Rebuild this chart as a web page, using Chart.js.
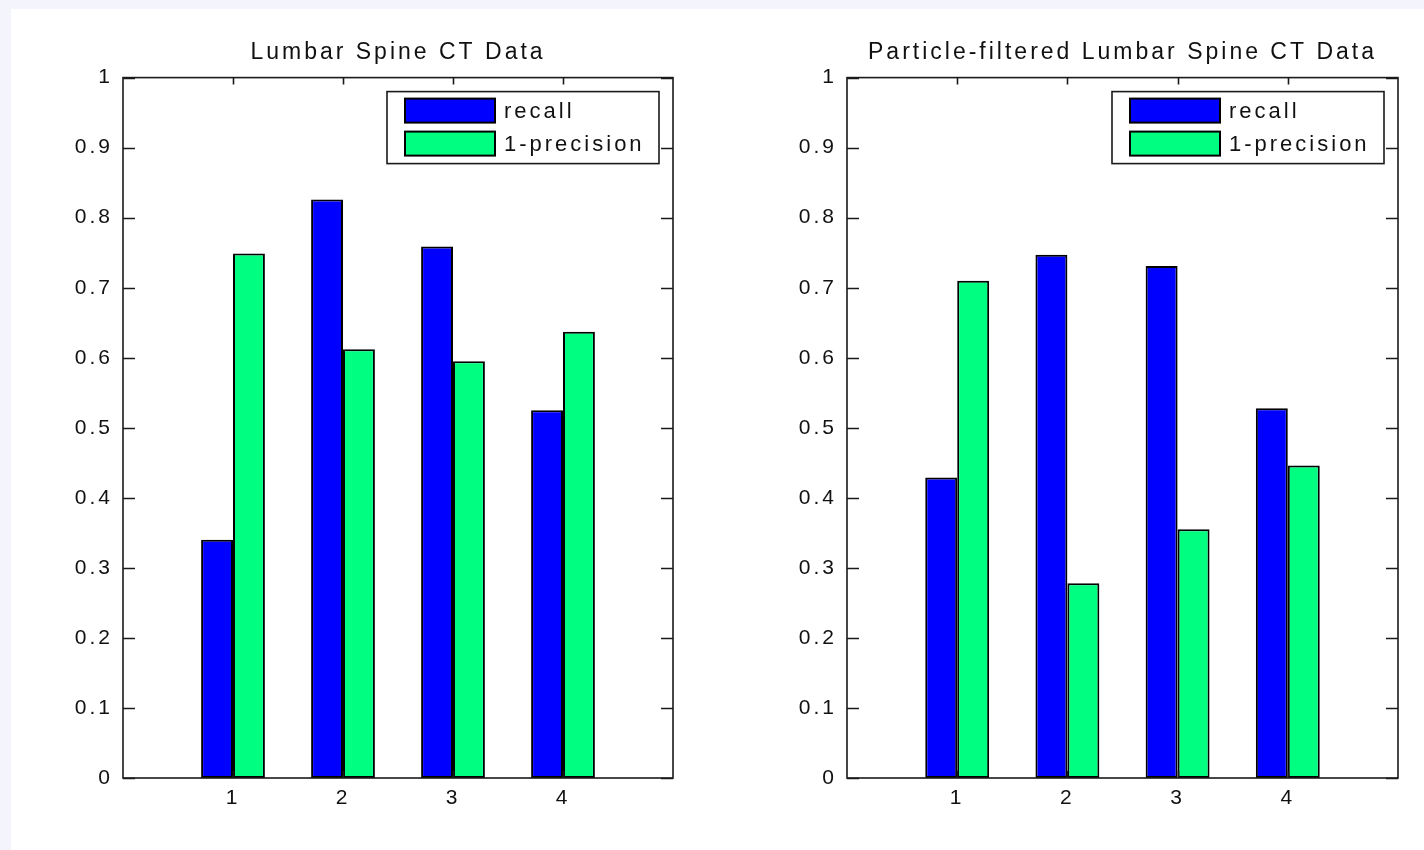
<!DOCTYPE html>
<html>
<head>
<meta charset="utf-8">
<script src="https://cdn.jsdelivr.net/npm/chart.js@4.4.1/dist/chart.umd.min.js"></script>
<style>
  html, body { margin: 0; padding: 0; background: #f3f4fc; width: 1424px; height: 850px; overflow: hidden; }
  #figura { position: absolute; left: 11px; top: 9px; width: 1413px; height: 841px; background: #fff; }
  .kutu { position: absolute; top: 0; height: 841px; }
  #solKutu { left: 0; width: 706px; }
  #sagKutu { left: 706px; width: 707px; }
</style>
</head>
<body>
<div id="figura">
  <div class="kutu" id="solKutu"><canvas id="solGrafik"></canvas></div>
  <div class="kutu" id="sagKutu"><canvas id="sagGrafik"></canvas></div>
</div>
<script>
// ============================================
// VERİ
// ============================================
const kategoriler = [1, 2, 3, 4];
const yTikleri = [0, 0.1, 0.2, 0.3, 0.4, 0.5, 0.6, 0.7, 0.8, 0.9, 1];

const solBaslik = "Lumbar Spine CT Data";
const solRecall = [0.340, 0.826, 0.759, 0.525];
const solPrecision = [0.749, 0.612, 0.595, 0.637];

const sagBaslik = "Particle-filtered Lumbar Spine CT Data";
const sagRecall = [0.429, 0.747, 0.731, 0.528];
const sagPrecision = [0.710, 0.278, 0.355, 0.446];

const seriAdlari = ["recall", "1-precision"];
const seriRenkleri = ["#0000ff", "#00ff80"];

const YAZI = "'Liberation Sans', Arial, sans-serif";
const ARALIK = "3px";   // matlab yazısı geniş duruyor
const CIZGI = "#1a1a1a";
const YAZI_RENK = "#111";

// ============================================
// EKLENTİLER
// ============================================
// harf aralığı (ctx durumu her çizimde sıfırlanabiliyor)
const harfAraligi = {
  id: "harfAraligi",
  beforeUpdate(chart) { chart.ctx.letterSpacing = ARALIK; },
  beforeDraw(chart) { chart.ctx.letterSpacing = ARALIK; },
};

// matlab tarzı kutu + içe dönük çentikler + lejant
const matlabKutu = {
  id: "matlabKutu",
  afterDraw(chart) {
    const { ctx, chartArea: a, scales } = chart;
    ctx.save();
    ctx.strokeStyle = CIZGI;
    ctx.lineWidth = 1.6;
    ctx.strokeRect(a.left, a.top, a.right - a.left, a.bottom - a.top);

    ctx.beginPath();
    yTikleri.forEach(v => {
      const y = Math.round(scales.y.getPixelForValue(v)) + 0.5;
      ctx.moveTo(a.left, y);  ctx.lineTo(a.left + 12, y);
      ctx.moveTo(a.right, y); ctx.lineTo(a.right - 12, y);
    });
    kategoriler.forEach(k => {
      const x = Math.round(scales.x.getPixelForValue(k)) + 0.5;
      ctx.moveTo(x, a.top);    ctx.lineTo(x, a.top + 7);
      ctx.moveTo(x, a.bottom); ctx.lineTo(x, a.bottom - 7);
    });
    ctx.stroke();

    // lejant kutusu
    const gen = 272, yuk = 72;
    const lx = a.right - 14 - gen, ly = a.top + 14;
    ctx.fillStyle = "#fff";
    ctx.fillRect(lx, ly, gen, yuk);
    ctx.lineWidth = 1.6;
    ctx.strokeRect(lx, ly, gen, yuk);

    ctx.letterSpacing = ARALIK;
    ctx.font = "22px " + YAZI;
    ctx.textBaseline = "middle";
    ctx.textAlign = "left";
    seriAdlari.forEach((ad, i) => {
      const sy = ly + 7 + i * 33;
      ctx.fillStyle = seriRenkleri[i];
      ctx.fillRect(lx + 18, sy, 90, 24);
      ctx.lineWidth = 2;
      ctx.strokeStyle = "#000";
      ctx.strokeRect(lx + 18, sy, 90, 24);
      ctx.fillStyle = YAZI_RENK;
      ctx.fillText(ad, lx + 117, sy + 13);
    });
    ctx.restore();
  }
};

// ============================================
// GRAFİK KURULUMU
// ============================================
function grafikKur(canvasId, baslik, recall, precision, eksenGenisligi, sagBosluk) {
  const seriler = [recall, precision].map((veri, i) => ({
    label: seriAdlari[i],
    data: kategoriler.map((k, j) => ({ x: k, y: veri[j] })),
    backgroundColor: seriRenkleri[i],
    borderColor: "#000",
    borderWidth: 2,
    borderSkipped: false,
    categoryPercentage: 0.58,
    barPercentage: 1.0,
  }));

  return new Chart(document.getElementById(canvasId), {
    type: "bar",
    data: { datasets: seriler },
    options: {
      responsive: true,
      maintainAspectRatio: false,
      animation: false,
      events: [],
      layout: { padding: { left: 0, right: sagBosluk, top: 0, bottom: 0 } },
      plugins: {
        legend: { display: false },
        tooltip: { enabled: false },
        title: {
          display: true,
          text: baslik,
          fullSize: false,
          color: YAZI_RENK,
          font: { family: YAZI, size: 23, weight: "normal" },
          padding: { top: 30, bottom: 11 },
        },
      },
      scales: {
        x: {
          type: "linear",
          offset: false,
          min: 0, max: 5,
          afterBuildTicks: s => { s.ticks = kategoriler.map(v => ({ value: v })); },
          afterFit: s => { s.height = 72; },
          grid: { display: false, drawTicks: false, offset: false },
          border: { display: false },
          ticks: { color: YAZI_RENK, padding: 8, font: { family: YAZI, size: 21 }, callback: v => String(v) },
        },
        y: {
          min: 0, max: 1,
          afterBuildTicks: s => { s.ticks = yTikleri.map(v => ({ value: v })); },
          afterFit: s => { s.width = eksenGenisligi; },
          grid: { display: false, drawTicks: false },
          border: { display: false },
          ticks: { color: YAZI_RENK, padding: 10, font: { family: YAZI, size: 21 }, callback: v => String(+v.toFixed(1)) },
        },
      },
    },
    plugins: [harfAraligi, matlabKutu],
  });
}

grafikKur("solGrafik", solBaslik, solRecall, solPrecision, 112, 44);
grafikKur("sagGrafik", sagBaslik, sagRecall, sagPrecision, 130, 26);
</script>
</body>
</html>
